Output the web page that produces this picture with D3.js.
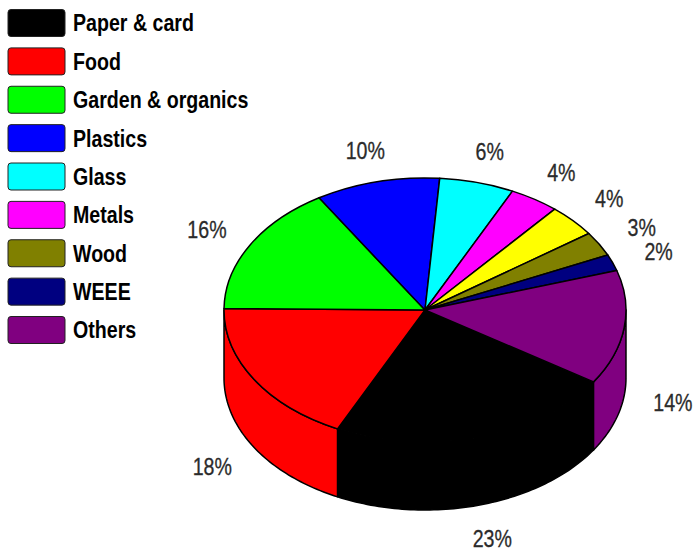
<!DOCTYPE html>
<html>
<head>
<meta charset="utf-8">
<script src="https://cdn.jsdelivr.net/npm/d3@7"></script>
<style>
  html, body { margin: 0; padding: 0; background: #fff; }
  svg { display: block; }
</style>
</head>
<body>
<svg id="chart" width="696" height="554"></svg>
<script>
// Waste composition shares (%), in drawing order (clockwise)
const categories = ["Paper & card", "Food", "Garden & organics", "Plastics", "Glass", "Metals", "", "Wood", "WEEE", "Others"];
const shares     = [23, 18, 16, 10, 6, 4, 4, 3, 2, 14];
const colors     = ["#000000", "#ff0000", "#00ff00", "#0000ff", "#00ffff", "#ff00ff", "#ffff00", "#808000", "#000080", "#800080"];

const svg = d3.select("#chart");

// ellipse geometry of the tilted pie
const cx = 425, cy = 310, rx = 201, ry = 132, depth = 68;
const start = 123 * Math.PI / 180;

// narrow sans: regular face squeezed horizontally
const FONT = "'Liberation Sans Narrow', 'Liberation Sans', Arial, sans-serif";
const SQUEEZE = 0.835;

const data = shares.map((v, i) => ({ name: categories[i], value: v, color: colors[i] }));
const pie = d3.pie().sort(null).value(d => d.value)
  .startAngle(start).endAngle(start + 2 * Math.PI);
const arcs = pie(data);

const px = a => cx + rx * Math.sin(a);
const py = a => cy - ry * Math.cos(a);

// side walls: only the front half (cos < 0) is visible
const fronts = [[Math.PI / 2, 3 * Math.PI / 2], [Math.PI / 2 + 2 * Math.PI, 3 * Math.PI / 2 + 2 * Math.PI]];
const line = d3.line();
const sides = svg.append("g");
arcs.forEach(a => {
  fronts.forEach(([f0, f1]) => {
    const s = Math.max(a.startAngle, f0), e = Math.min(a.endAngle, f1);
    if (e - s <= 1e-6) return;
    const n = Math.max(2, Math.ceil((e - s) / 0.02));
    const top = d3.range(n + 1).map(k => s + (e - s) * k / n);
    const pts = top.map(t => [px(t), py(t)])
      .concat(top.slice().reverse().map(t => [px(t), py(t) + depth]));
    sides.append("path")
      .attr("d", line(pts) + "Z")
      .attr("fill", a.data.color)
      .attr("stroke", "#000")
      .attr("stroke-width", 1.5)
      .attr("stroke-linejoin", "round");
  });
});

// top faces: circular arcs squashed into the ellipse
const arc = d3.arc().innerRadius(0).outerRadius(rx);
const topG = svg.append("g").attr("transform", `translate(${cx},${cy}) scale(1,${ry / rx})`);
topG.selectAll("path").data(arcs).join("path")
  .attr("d", arc)
  .attr("fill", d => d.data.color)
  .attr("stroke", "#000")
  .attr("stroke-width", 1.5)
  .attr("stroke-linejoin", "round")
  .attr("vector-effect", "non-scaling-stroke");

// percentage labels placed along each slice's mid angle
const k = 1.245;
const labelPos = d => {
  const m = (d.startAngle + d.endAngle) / 2;
  return [cx + k * rx * Math.sin(m), cy - k * ry * Math.cos(m) + (Math.cos(m) < 0 ? depth + 2 : 0)];
};
svg.append("g").selectAll("text").data(arcs).join("text")
  .attr("transform", d => { const [x, y] = labelPos(d); return `translate(${x},${y}) scale(${SQUEEZE},1)`; })
  .attr("dy", "0.36em")
  .attr("text-anchor", "middle")
  .attr("font-family", FONT)
  .attr("font-size", 23.5)
  .attr("fill", "#2b2b2b")
  .attr("stroke", "#2b2b2b")
  .attr("stroke-width", 0.3)
  .text(d => d.data.value + "%");

// legend
const legendItems = data.filter(d => d.name !== "");
const lg = svg.append("g");
const rowY = d3.scalePoint().domain(legendItems.map(d => d.name)).range([23, 330]);
legendItems.forEach(d => {
  const y = rowY(d.name);
  lg.append("rect")
    .attr("x", 8).attr("y", y - 13.5)
    .attr("width", 57).attr("height", 27)
    .attr("rx", 3)
    .attr("fill", d.color)
    .attr("stroke", "#222")
    .attr("stroke-width", 1);
  lg.append("text")
    .attr("transform", `translate(73,${y}) scale(${SQUEEZE},1)`)
    .attr("dy", "0.36em")
    .attr("font-family", FONT)
    .attr("font-weight", "bold")
    .attr("font-size", 23.5)
    .attr("fill", "#000")
    .text(d.name);
});
</script>
</body>
</html>
